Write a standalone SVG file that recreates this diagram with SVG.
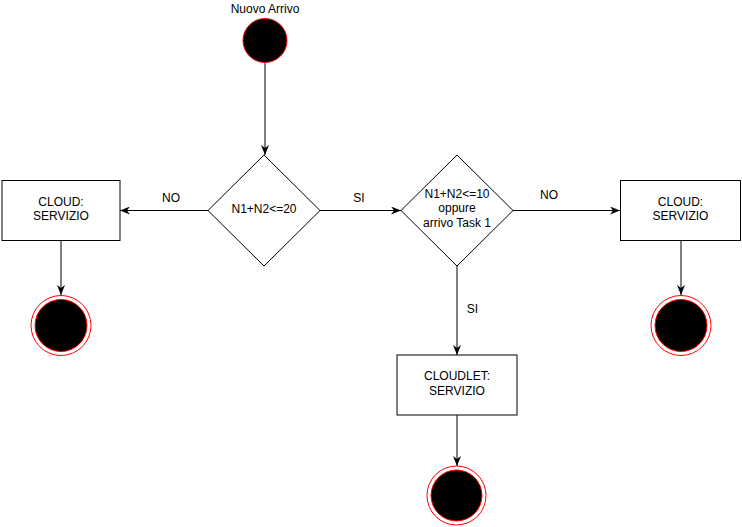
<svg xmlns="http://www.w3.org/2000/svg" width="742" height="527" viewBox="0 0 742 527">
<defs>
<style>
text{font-family:"Liberation Sans",Arial,sans-serif;font-size:12px;fill:#000;text-anchor:middle}
.box{fill:#fff;stroke:#000;stroke-width:1}
.start{fill:#000;stroke:#ff0000;stroke-width:1}
.ring{fill:#fff;stroke:#ff0000;stroke-width:1}
.dot{fill:#000;stroke:#ff0000;stroke-width:1}
.edge{fill:none;stroke:#000;stroke-width:1;marker-end:url(#arr)}
</style>
<marker id="arr" markerUnits="userSpaceOnUse" viewBox="0 0 10 8" refX="10" refY="4" markerWidth="10" markerHeight="8" orient="auto">
<path d="M0,0 L10,4 L0,8 L3,4 z" fill="#000"/>
</marker>
</defs>
<rect width="742" height="527" fill="#fff"/>
<g id="connectors">
<path class="edge" d="M265,62 V155"/>
<path class="edge" d="M208,210.5 H120"/>
<path class="edge" d="M320,210.5 H401"/>
<path class="edge" d="M513,210.5 H620"/>
<path class="edge" d="M457,265 V355"/>
<path class="edge" d="M61,240 V295"/>
<path class="edge" d="M681,240 V295"/>
<path class="edge" d="M457,415 V466"/>
<text x="171" y="202">NO</text>
<text x="359" y="202">SI</text>
<text x="549" y="198.5">NO</text>
<text x="472.5" y="313">SI</text>
</g>
<g id="start">
<text x="265" y="12.5">Nuovo Arrivo</text>
<circle class="start" cx="265" cy="40.5" r="22"/>
</g>
<g id="decision1">
<path class="box" d="M264,155 L320,210.5 L264,266 L208,210.5 Z"/>
<text x="264" y="212.5">N1+N2&lt;=20</text>
</g>
<g id="decision2">
<path class="box" d="M457,155 L513,210.5 L457,266 L401,210.5 Z"/>
<text x="457" y="198">N1+N2&lt;=10</text>
<text x="457" y="212">oppure</text>
<text x="457" y="226.5">arrivo Task 1</text>
</g>
<g id="cloud1">
<rect class="box" x="2" y="180.5" width="118" height="60"/>
<text x="61" y="205.5">CLOUD:</text>
<text x="61" y="219.5">SERVIZIO</text>
</g>
<g id="cloud2">
<rect class="box" x="620.5" y="180.5" width="120" height="60"/>
<text x="680.5" y="205.5">CLOUD:</text>
<text x="680.5" y="219.5">SERVIZIO</text>
</g>
<g id="cloudlet">
<rect class="box" x="397" y="355" width="120" height="60"/>
<text x="457" y="380">CLOUDLET:</text>
<text x="457" y="395">SERVIZIO</text>
</g>
<g id="end1">
<circle class="ring" cx="61" cy="325.5" r="30"/>
<circle class="dot" cx="61" cy="325.5" r="26"/>
</g>
<g id="end2">
<circle class="ring" cx="681" cy="325.5" r="30"/>
<circle class="dot" cx="681" cy="325.5" r="26"/>
</g>
<g id="end3">
<circle class="ring" cx="456.5" cy="495.5" r="29.5"/>
<circle class="dot" cx="456.5" cy="495.5" r="25.5"/>
</g>
</svg>
